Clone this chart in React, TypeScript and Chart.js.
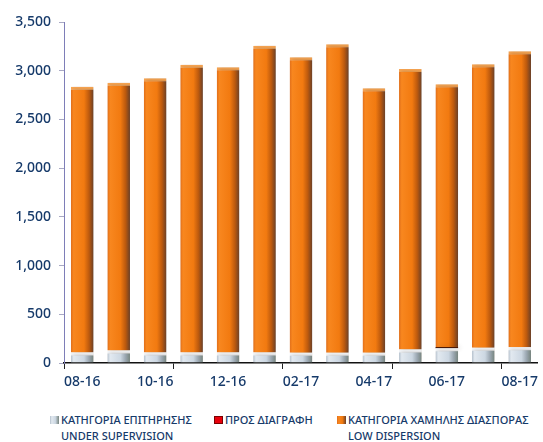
import React, { useEffect, useRef } from "react";
import { Chart, registerables } from "chart.js";

Chart.register(...registerables);

const categories = ["08-16", "09-16", "10-16", "11-16", "12-16", "01-17", "02-17", "03-17", "04-17", "05-17", "06-17", "07-17", "08-17"];
const underSupervision = [108, 128, 108, 108, 108, 108, 104, 104, 104, 138, 152, 157, 162];
const forDeletion = [0, 0, 0, 0, 0, 0, 0, 0, 0, 0, 12, 0, 0];
const lowDispersion = [2728, 2749, 2814, 2954, 2927, 3149, 3034, 3167, 2715, 2880, 2696, 2909, 3037];
const yTicks = [0, 500, 1000, 1500, 2000, 2500, 3000, 3500];

const legendLabels = [
  ["ΚΑΤΗΓΟΡΙΑ ΕΠΙΤΗΡΗΣΗΣ", "UNDER SUPERVISION"],
  ["ΠΡΟΣ ΔΙΑΓΡΑΦΗ"],
  ["ΚΑΤΗΓΟΡΙΑ ΧΑΜΗΛΗΣ ΔΙΑΣΠΟΡΑΣ", "LOW DISPERSION"],
];

const TEXT = "#163a6a";
const BAR_PCT = 0.62;

const orangeStops: [number, string][] = [
  [0, "#e06e1a"],
  [0.12, "#f8871f"],
  [0.58, "#f27a10"],
  [0.8, "#bd5a0e"],
  [1, "#6a4028"],
];
const grayStops: [number, string][] = [
  [0, "#b4c0cc"],
  [0.12, "#e2e9f0"],
  [0.58, "#ccd7e2"],
  [0.8, "#9ba7b1"],
  [1, "#76847e"],
];

function barGradient(ctx: any, stops: [number, string][], fallback: string) {
  const chart = ctx.chart;
  const xs = chart.scales && chart.scales.x;
  if (!xs || !chart.chartArea || ctx.type !== "data") return fallback;
  const cx = xs.getPixelForValue(ctx.dataIndex);
  const w = (xs.width / categories.length) * BAR_PCT;
  const g = chart.ctx.createLinearGradient(cx - w / 2, 0, cx + w / 2, 0);
  stops.forEach(([o, c]) => g.addColorStop(o, c));
  return g;
}

const shadowPlugin = {
  id: "barShadow",
  beforeDatasetsDraw(chart: any) {
    const c = chart.ctx;
    c.save();
    c.shadowColor = "rgba(60,40,20,0.3)";
    c.shadowBlur = 4;
    c.shadowOffsetX = 2;
    c.shadowOffsetY = 0;
  },
  afterDatasetsDraw(chart: any) {
    chart.ctx.restore();
  },
};

export default function App() {
  const ref = useRef<HTMLCanvasElement | null>(null);

  useEffect(() => {
    if (!ref.current) return;
    const font = { family: "'Noto Sans', sans-serif", size: 14, weight: "500" };
    const chart = new Chart(ref.current, {
      type: "bar",
      data: {
        labels: categories,
        datasets: [
          {
            label: "ΚΑΤΗΓΟΡΙΑ ΕΠΙΤΗΡΗΣΗΣ UNDER SUPERVISION",
            data: underSupervision,
            backgroundColor: (c: any) => barGradient(c, grayStops, "#ccd7e2"),
            borderColor: "#f3f6fa",
            borderWidth: { top: 3, left: 0, right: 0, bottom: 0 },
            borderSkipped: false,
          },
          {
            label: "ΠΡΟΣ ΔΙΑΓΡΑΦΗ",
            data: forDeletion,
            backgroundColor: "#4a1a08",
            borderWidth: 0,
          },
          {
            label: "ΚΑΤΗΓΟΡΙΑ ΧΑΜΗΛΗΣ ΔΙΑΣΠΟΡΑΣ LOW DISPERSION",
            data: lowDispersion,
            backgroundColor: (c: any) => barGradient(c, orangeStops, "#f27a10"),
            borderColor: "#f8a552",
            borderWidth: { top: 3, left: 0, right: 0, bottom: 0 },
            borderSkipped: false,
          },
        ],
      },
      options: {
        animation: false,
        responsive: false,
        devicePixelRatio: 1,
        layout: { padding: { top: 22, right: 1, left: 0, bottom: 0 } },
        plugins: { legend: { display: false }, tooltip: { enabled: false } },
        datasets: { bar: { categoryPercentage: 1, barPercentage: BAR_PCT } },
        scales: {
          x: {
            stacked: true,
            offset: true,
            afterFit: (s: any) => {
              s.height = 37;
            },
            grid: {
              offset: true,
              drawOnChartArea: false,
              drawTicks: true,
              tickLength: 6,
              lineWidth: 1,
              color: (c: any) => (typeof c.index === "number" && c.index % 3 === 0 ? "#222" : "rgba(0,0,0,0)"),
            },
            border: { display: true, color: "#111", width: 1.5 },
            ticks: {
              autoSkip: false,
              maxRotation: 0,
              padding: 5,
              color: TEXT,
              font,
              callback: (_v: any, i: number) => (i % 2 === 0 ? categories[i] : ""),
            },
          },
          y: {
            stacked: true,
            min: 0,
            max: 3500,
            afterFit: (s: any) => {
              s.width = 64;
            },
            afterBuildTicks: (s: any) => {
              s.ticks = yTicks.map((v) => ({ value: v }));
            },
            grid: {
              drawOnChartArea: false,
              drawTicks: true,
              tickLength: 5,
              color: "#a9a9c4",
            },
            border: { display: true, color: "#7e7eb8", width: 1 },
            ticks: {
              padding: 8,
              color: TEXT,
              font,
              callback: (v: any) => Number(v).toLocaleString("en-US"),
            },
          },
        },
      },
      plugins: [shadowPlugin],
    } as any);
    return () => chart.destroy();
  }, []);

  const legendFont: React.CSSProperties = {
    fontFamily: "'Noto Sans', sans-serif",
    fontSize: 11,
    fontWeight: 500,
    lineHeight: "16px",
    color: TEXT,
    whiteSpace: "nowrap",
  };
  const boxes = [
    { left: 50, text: 61, bg: "linear-gradient(90deg,#b4c0cc,#e2e9f0 20%,#ccd7e2 60%,#76847e)" },
    { left: 214, text: 225, bg: "#e8000b" },
    { left: 337, text: 348, bg: "linear-gradient(90deg,#e06e1a,#f8871f 20%,#f27a10 60%,#6a4028)" },
  ];

  return (
    <div style={{ position: "absolute", left: 0, top: 0, width: 543, height: 442, background: "#fff", overflow: "hidden" }}>
      <canvas ref={ref} width={543} height={400} style={{ display: "block", width: 543, height: 400 }} />
      {boxes.map((b, i) => (
        <React.Fragment key={i}>
          <div
            style={{
              position: "absolute",
              left: b.left,
              top: 416,
              width: 9,
              height: 8,
              background: b.bg,
              border: i === 1 ? "1px solid #7a0000" : "none",
              boxSizing: "border-box",
            }}
          />
          <div style={{ position: "absolute", left: b.text, top: 412, ...legendFont }}>
            {legendLabels[i].map((l, j) => (
              <div key={j}>{l}</div>
            ))}
          </div>
        </React.Fragment>
      ))}
    </div>
  );
}
